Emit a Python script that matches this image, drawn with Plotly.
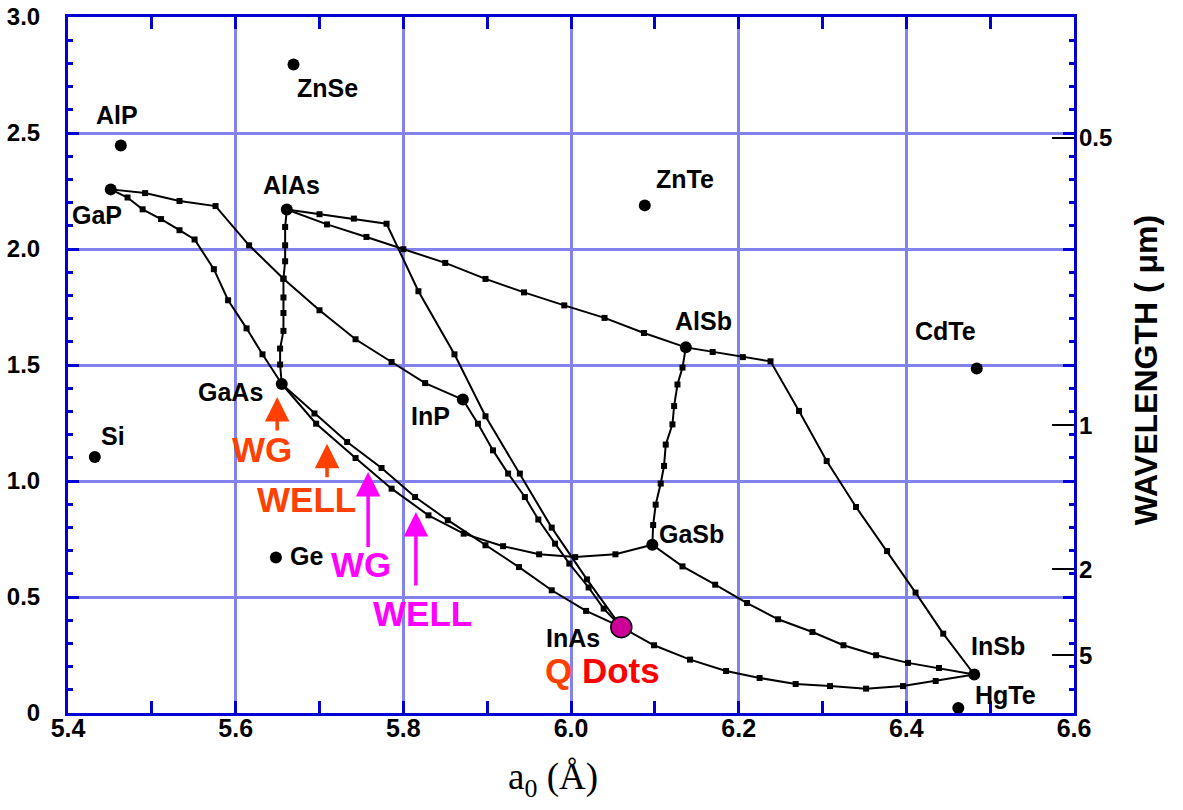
import plotly.graph_objects as go

# ---------------- data ----------------
compounds = ["AlP", "GaP", "ZnSe", "AlAs", "ZnTe", "GaAs", "Si", "Ge", "InP",
             "AlSb", "GaSb", "CdTe", "InSb", "HgTe"]
lattice_A = [5.463, 5.451, 5.669, 5.661, 6.088, 5.655, 5.432, 5.648, 5.871,
             6.137, 6.097, 6.484, 6.481, 6.462]
gap_eV = [2.446, 2.257, 2.795, 2.170, 2.188, 1.418, 1.103, 0.670, 1.351,
          1.576, 0.725, 1.485, 0.166, 0.022]

label_x = [5.459, 5.435, 5.709, 5.667, 6.136, 5.594, 5.454, 5.685, 5.832,
           6.158, 6.144, 6.447, 6.509, 6.518]
label_y = [2.562, 2.131, 2.677, 2.260, 2.286, 1.365, 1.175, 0.661, 1.262,
           1.671, 0.754, 1.628, 0.273, 0.062]

inas_name = "InAs"
inas_x = [6.060]
inas_y = [0.370]
inas_label_x = 6.002
inas_label_y = 0.299

# alloy curves (endpoints are the binaries)
GaInP_x = [5.451, 5.492, 5.533, 5.576, 5.616, 5.657, 5.700, 5.743, 5.786, 5.826, 5.871]
GaInP_y = [2.257, 2.241, 2.207, 2.185, 2.016, 1.872, 1.736, 1.611, 1.513, 1.422, 1.351]

GaAsP_x = [5.451, 5.471, 5.489, 5.511, 5.533, 5.551, 5.574, 5.591, 5.613, 5.632, 5.655]
GaAsP_y = [2.257, 2.222, 2.171, 2.129, 2.081, 2.041, 1.913, 1.779, 1.658, 1.546, 1.418]

AlGaAs_x = [5.661, 5.659, 5.659, 5.659, 5.657, 5.657, 5.657, 5.657, 5.653, 5.653, 5.655]
AlGaAs_y = [2.170, 2.095, 2.016, 1.947, 1.872, 1.791, 1.724, 1.647, 1.571, 1.502, 1.418]

AlAsSb_x = [5.661, 5.709, 5.756, 5.800, 5.850, 5.898, 5.944, 5.992, 6.040, 6.087, 6.137]
AlAsSb_y = [2.170, 2.106, 2.052, 1.999, 1.940, 1.871, 1.813, 1.757, 1.703, 1.638, 1.576]

AlInAs_x = [5.661, 5.700, 5.741, 5.780, 5.818, 5.861, 5.898, 5.939, 5.977, 6.019, 6.060]
AlInAs_y = [2.170, 2.150, 2.131, 2.109, 1.818, 1.546, 1.279, 1.032, 0.799, 0.576, 0.370]

InAsP_x = [5.871, 5.889, 5.907, 5.925, 5.945, 5.961, 5.981, 5.998, 6.021, 6.039, 6.060]
InAsP_y = [1.351, 1.247, 1.132, 1.032, 0.931, 0.834, 0.730, 0.644, 0.541, 0.450, 0.370]

GaInAs_x = [5.655, 5.694, 5.733, 5.774, 5.814, 5.853, 5.898, 5.938, 5.977, 6.018, 6.060]
GaInAs_y = [1.418, 1.291, 1.168, 1.056, 0.931, 0.831, 0.723, 0.629, 0.529, 0.440, 0.370]

GaAsSb_x = [5.655, 5.696, 5.743, 5.786, 5.830, 5.872, 5.919, 5.962, 6.005, 6.053, 6.097]
GaAsSb_y = [1.418, 1.247, 1.099, 0.967, 0.852, 0.773, 0.719, 0.684, 0.672, 0.684, 0.725]

AlGaSb_x = [6.137, 6.133, 6.127, 6.123, 6.121, 6.113, 6.111, 6.107, 6.101, 6.098, 6.097]
AlGaSb_y = [1.576, 1.489, 1.416, 1.323, 1.244, 1.157, 1.065, 0.989, 0.898, 0.810, 0.725]

AlInSb_x = [6.137, 6.169, 6.205, 6.238, 6.272, 6.305, 6.340, 6.377, 6.411, 6.444, 6.481]
AlInSb_y = [1.576, 1.556, 1.534, 1.516, 1.302, 1.086, 0.888, 0.698, 0.519, 0.342, 0.166]

GaInSb_x = [6.097, 6.133, 6.172, 6.210, 6.247, 6.288, 6.325, 6.364, 6.402, 6.439, 6.481]
GaInSb_y = [0.725, 0.632, 0.553, 0.474, 0.404, 0.349, 0.292, 0.249, 0.216, 0.194, 0.166]

InAsSb_x = [6.060, 6.099, 6.142, 6.185, 6.225, 6.268, 6.309, 6.352, 6.396, 6.435, 6.481]
InAsSb_y = [0.370, 0.292, 0.230, 0.181, 0.151, 0.125, 0.116, 0.105, 0.116, 0.138, 0.166]

curves = [(GaInP_x, GaInP_y), (GaAsP_x, GaAsP_y), (AlGaAs_x, AlGaAs_y),
          (AlAsSb_x, AlAsSb_y), (AlInAs_x, AlInAs_y), (InAsP_x, InAsP_y),
          (GaInAs_x, GaInAs_y), (GaAsSb_x, GaAsSb_y), (AlGaSb_x, AlGaSb_y),
          (AlInSb_x, AlInSb_y), (GaInSb_x, GaInSb_y), (InAsSb_x, InAsSb_y)]

# axis ticks
x_ticks = [5.4, 5.6, 5.8, 6.0, 6.2, 6.4, 6.6]
x_ticktext = ["5.4", "5.6", "5.8", "6.0", "6.2", "6.4", "6.6"]
y_ticks = [0, 0.5, 1.0, 1.5, 2.0, 2.5, 3.0]
y_ticktext = ["0", "0.5", "1.0", "1.5", "2.0", "2.5", "3.0"]
wavelength_um = [0.5, 1, 2, 5]
wavelength_text = ["0.5", "1", "2", "5"]
HC = 1.2398  # eV*um

# annotations: text, x, y, colour key
device_text = ["WG", "WELL", "WG", "WELL"]
device_x = [5.632, 5.685, 5.749, 5.823]
device_y = [1.125, 0.909, 0.628, 0.414]
device_col = ["orange", "orange", "magenta", "magenta"]
arrow_x = [5.6495, 5.709, 5.758, 5.815]
arrow_tip_y = [1.362, 1.161, 1.039, 0.866]
arrow_tail_y = [1.211, 1.010, 0.709, 0.543]
qdots_x = 6.038
qdots_y = 0.198

# ---------------- styles ----------------
AX_BLUE = "#0000d2"
GRID = "#8282ec"
ORANGE = "#ff4000"
MAGENTA = "#ff00ff"
SANS = "Liberation Sans"
cols = {"orange": ORANGE, "magenta": MAGENTA}

fig = go.Figure()

for cx, cy in curves:
    fig.add_trace(go.Scatter(x=cx, y=cy, mode="lines+markers",
                             line=dict(color="black", width=2),
                             marker=dict(symbol="square", size=6, color="black"),
                             hoverinfo="skip", showlegend=False))

fig.add_trace(go.Scatter(x=lattice_A, y=gap_eV, mode="markers",
                         marker=dict(size=12, color="black"),
                         showlegend=False))
fig.add_trace(go.Scatter(x=inas_x, y=inas_y, mode="markers",
                         marker=dict(size=21, color="#cc0099",
                                     line=dict(color="black", width=1.5)),
                         showlegend=False))
# secondary (wavelength) axis holder
fig.add_trace(go.Scatter(x=[None], y=[None], yaxis="y2", showlegend=False))

annotations = []
for name, lx, ly in zip(compounds, label_x, label_y):
    annotations.append(dict(x=lx, y=ly, xref="x", yref="y", text=name,
                            showarrow=False, xanchor="center", yanchor="middle",
                            yshift=4,
                            font=dict(family=SANS, size=25, color="black", weight="bold")))
annotations.append(dict(x=inas_label_x, y=inas_label_y, xref="x", yref="y",
                        text=inas_name, showarrow=False, xanchor="center",
                        yanchor="bottom", yshift=-10,
                        font=dict(family=SANS, size=25, color="black", weight="bold")))

for t, tx, ty, c in zip(device_text, device_x, device_y, device_col):
    annotations.append(dict(x=tx, y=ty, xref="x", yref="y", text=t, showarrow=False,
                            xanchor="center", yanchor="middle", yshift=3,
                            font=dict(family=SANS, size=35, color=cols[c], weight="bold")))

for axx, tip, tail, c in zip(arrow_x, arrow_tip_y, arrow_tail_y, device_col):
    annotations.append(dict(x=axx, y=tip, ax=axx, ay=tail, xref="x", yref="y",
                            axref="x", ayref="y", text="", showarrow=True,
                            arrowhead=2, arrowsize=1.4, arrowwidth=3.5,
                            arrowcolor=cols[c]))

annotations.append(dict(x=qdots_x, y=qdots_y, xref="x", yref="y",
                        text="<span style='color:%s'>Q</span> <span style='color:#ff0000'>Dots</span>" % ORANGE,
                        showarrow=False, xanchor="center", yanchor="top", yshift=18,
                        font=dict(family=SANS, size=35, color="#ff0000", weight="bold")))

annotations.append(dict(x=0.482, y=-0.095, xref="paper", yref="paper",
                        text="a<sub>0</sub> (Å)", showarrow=False,
                        xanchor="center", yanchor="middle",
                        font=dict(family="Liberation Serif", size=37, color="black")))
annotations.append(dict(x=1.0716, y=0.4924, xref="paper", yref="paper",
                        text="WAVELENGTH ( μm)", showarrow=False, textangle=-90,
                        xanchor="center", yanchor="middle",
                        font=dict(family=SANS, size=32, color="black", weight="bold")))

xtickfont = dict(family=SANS, size=25, color="black", weight="bold")
ytickfont = dict(family=SANS, size=24, color="black", weight="bold")

fig.update_layout(
    width=1183, height=810,
    margin=dict(l=68, r=109, t=17, b=97, autoexpand=False),
    paper_bgcolor="white", plot_bgcolor="white",
    showlegend=False,
    annotations=annotations,
    xaxis=dict(range=[5.4, 6.6], tickvals=x_ticks, ticktext=x_ticktext,
               showgrid=True, gridcolor=GRID, gridwidth=3, automargin=False,
               showline=True, linecolor=AX_BLUE, linewidth=3, mirror="allticks",
               ticks="inside", ticklen=12, tickwidth=2.5, tickcolor=AX_BLUE,
               minor=dict(dtick=0.1, tick0=5.4, ticks="inside", ticklen=6,
                          tickwidth=2.5, tickcolor=AX_BLUE, showgrid=False),
               tickfont=xtickfont, zeroline=False, ticklabelstandoff=-9),
    yaxis=dict(range=[0, 3], tickvals=y_ticks, ticktext=y_ticktext,
               showgrid=True, gridcolor=GRID, gridwidth=3, automargin=False,
               showline=True, linecolor=AX_BLUE, linewidth=3, mirror="allticks",
               ticks="inside", ticklen=11, tickwidth=2.5, tickcolor=AX_BLUE,
               minor=dict(dtick=0.1, tick0=0, ticks="inside", ticklen=5,
                          tickwidth=2.5, tickcolor=AX_BLUE, showgrid=False),
               tickfont=ytickfont, zeroline=False, ticklabelstandoff=20),
    yaxis2=dict(range=[0, 3], overlaying="y", side="right", automargin=False,
                tickvals=[HC / w for w in wavelength_um], ticktext=wavelength_text,
                ticks="inside", ticklen=22, tickwidth=2, tickcolor="black",
                showgrid=False, showline=False, zeroline=False,
                tickfont=ytickfont, ticklabelstandoff=4),
)

fig.write_html("out.html")
